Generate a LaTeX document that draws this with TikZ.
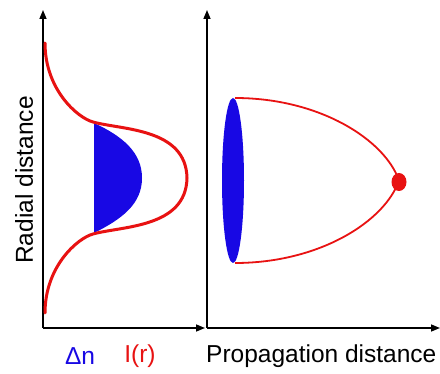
\documentclass[tikz,border=0pt]{standalone}
\usepackage{fontspec}
\setmainfont{Liberation Sans}
\usetikzlibrary{arrows.meta}
\definecolor{myred}{RGB}{232,18,18}
\definecolor{myblue}{RGB}{24,8,228}
\tikzset{
  axis/.style={line width=1.5pt, -{Triangle[length=9pt,width=7pt]}},
  lbl/.style={font=\fontsize{24.5}{29}\selectfont, inner sep=0pt},
  beam/.style={draw=myred, line width=3pt},
  thinbeam/.style={draw=myred, line width=1.8pt},
}
\begin{document}
\begin{tikzpicture}[x=1pt,y=-1pt]
\useasboundingbox (0,0) rectangle (440,374);
\fill[white] (0,0) rectangle (440,374);
% axes
\coordinate (o1) at (43,328);
\coordinate (y1) at (43,10);
\coordinate (x1) at (205,328);
\coordinate (o2) at (207,328);
\coordinate (y2) at (207,10);
\coordinate (x2) at (440,328);
\draw[axis] (o1) -- (y1);
\draw[axis] (o1) -- (x1);
\draw[axis] (o2) -- (y2);
\draw[axis] (o2) -- (x2);
% left: refractive index change
\fill[myblue] (94,123) .. controls (122,136) and (142,152) .. (142,178)
  .. controls (142,204) and (122,219) .. (94,233) -- cycle;
% left: intensity profile
\draw[beam, line cap=round] (45,43) .. controls (45,90) and (78,118) .. (93,122)
  .. controls (122,130) and (186,128) .. (187,178)
  .. controls (186,228) and (122,226) .. (93,234)
  .. controls (78,238) and (45,266) .. (45,313);
% right: beam focusing
\draw[thinbeam] (235,98) .. controls (320,98) and (385,140) .. (399,180.5)
  .. controls (385,221) and (320,263) .. (235,263);
\fill[myblue] (233,180.5) ellipse [x radius=11, y radius=82.5];
\fill[myred] (399,182) ellipse [x radius=7.5, y radius=9];
% labels
\node[lbl, rotate=90] (rad) at (24,180) {Radial distance};
\node[lbl, text=myblue] (dn) at (80,356) {Δn};
\node[lbl, text=myred] (ir) at (140,356) {I(r)};
\node[lbl, anchor=west] (prop) at (206,356) {Propagation distance};
\end{tikzpicture}
\end{document}
